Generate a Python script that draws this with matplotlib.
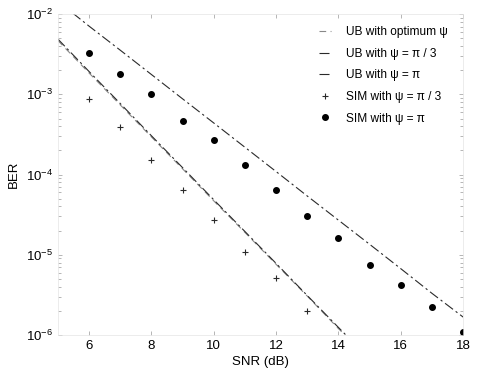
"""BER vs SNR: union bounds and simulation points."""

import matplotlib

matplotlib.use("Agg")
import matplotlib.pyplot as plt

snr_db = [5, 6, 7, 8, 9, 10, 11, 12, 13, 14, 15, 16, 17, 18]

# union bounds
ub_opt = [4.7e-3, 1.85e-3, 7.4e-4, 2.95e-4, 1.18e-4, 4.7e-5, 1.9e-5,
          7.6e-6, 3.05e-6, 1.2e-6, 4.9e-7, 2.0e-7, 8.0e-8, 3.2e-8]
ub_pi3 = [4.9e-3, 1.93e-3, 7.7e-4, 3.05e-4, 1.22e-4, 4.85e-5, 1.95e-5,
          7.8e-6, 3.1e-6, 1.24e-6, 5.0e-7, 2.0e-7, 8.1e-8, 3.3e-8]
ub_pi = [1.45e-2, 7.1e-3, 3.56e-3, 1.77e-3, 8.8e-4, 4.4e-4, 2.19e-4,
         1.09e-4, 5.4e-5, 2.7e-5, 1.35e-5, 6.7e-6, 3.3e-6, 1.67e-6]

# simulation points
sim_pi3_snr = [6, 7, 8, 9, 10, 11, 12, 13]
sim_pi3 = [8.7e-4, 3.9e-4, 1.5e-4, 6.4e-5, 2.7e-5, 1.07e-5, 5.2e-6, 2.0e-6]
sim_pi_snr = [6, 7, 8, 9, 10, 11, 12, 13, 14, 15, 16, 17, 18]
sim_pi = [3.3e-3, 1.8e-3, 1.0e-3, 4.7e-4, 2.7e-4, 1.3e-4, 6.4e-5,
          3.0e-5, 1.6e-5, 7.5e-6, 4.2e-6, 2.2e-6, 1.1e-6]

labels = [
    "UB with optimum ψ",
    "UB with ψ = π / 3",
    "UB with ψ = π",
    "SIM with ψ = π / 3",
    "SIM with ψ = π",
]


def main() -> None:
    plt.rcParams["font.family"] = ["Liberation Sans", "DejaVu Sans"]
    plt.rcParams["mathtext.fontset"] = "custom"
    plt.rcParams["mathtext.rm"] = "Liberation Sans"

    fig = plt.figure(figsize=(4.78, 3.73), dpi=100)
    ax = fig.add_axes([0.121, 0.102, 0.848, 0.86])

    ink = "#2a2a2a"
    ax.plot(snr_db, ub_opt, color="#888888", lw=0.8, ls=(0, (6, 4)), label=labels[0])
    ax.plot(snr_db, ub_pi3, color=ink, lw=0.8, ls=(0, (9, 3, 2, 3)), label=labels[1])
    ax.plot(snr_db, ub_pi, color=ink, lw=0.8, ls=(0, (9, 3, 2, 3)), label=labels[2])
    ax.plot(sim_pi3_snr, sim_pi3, ls="none", marker="+", ms=4, mew=0.8,
            color=ink, label=labels[3])
    ax.plot(sim_pi_snr, sim_pi, ls="none", marker="o", ms=4, color="black",
            label=labels[4])

    ax.set_yscale("log")
    ax.set_xlim(5, 18)
    ax.set_ylim(1e-6, 1e-2)
    ax.set_xticks([6, 8, 10, 12, 14, 16, 18])

    ax.set_xlabel("SNR (dB)", fontsize=9.5, labelpad=3)
    ax.set_ylabel("BER", fontsize=9.5, labelpad=4)
    ax.tick_params(which="both", direction="in", top=True, right=True,
                   labelsize=9.5, color="#999999", width=0.5)
    ax.tick_params(which="major", length=3)
    ax.tick_params(which="minor", length=2)
    for spine in ax.spines.values():
        spine.set_color("#e4e4e4")
        spine.set_linewidth(0.5)

    ax.legend(loc="upper left", frameon=False, fontsize=8.6,
              handlelength=1.0, handletextpad=1.3, labelspacing=0.8,
              borderaxespad=0.0, borderpad=0.0, bbox_to_anchor=(0.644, 0.962))

    fig.savefig("out.png", dpi=100)
    plt.close(fig)


if __name__ == "__main__":
    main()
